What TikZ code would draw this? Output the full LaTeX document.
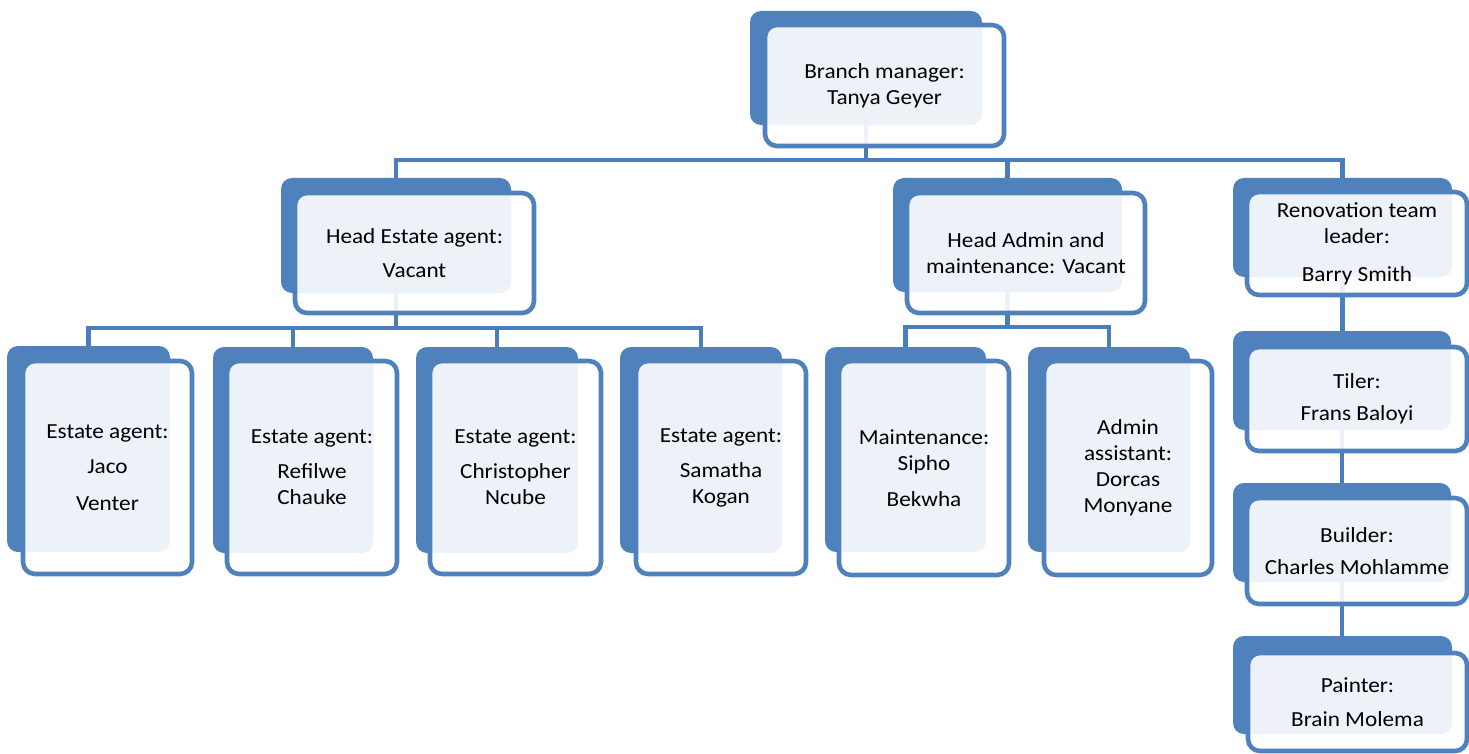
\documentclass[tikz,border=0pt]{standalone}
\usepackage{fontspec}
\setmainfont{Carlito}[FakeStretch=1.08]
\definecolor{acc}{HTML}{4F81BD}
\definecolor{lnc}{HTML}{4A7EBB}
\tikzset{
 backbox/.style={fill=acc, rounded corners=11pt, inner sep=0pt},
 frontbox/.style={draw=acc, line width=4.6pt, fill=white, fill opacity=0.9, text opacity=1, rounded corners=12pt, inner sep=0pt, align=center, font=\fontsize{21.5}{26}\selectfont},
 conn/.style={draw=lnc, line width=4.6pt}
}
\newcommand\backbox[5]{\node[backbox, minimum width={#4-#2}, minimum height={#5-#3}] (#1) at ({(#2+#4)/2},{(#3+#5)/2}) {};}
\newcommand\frontbox[6]{\node[frontbox, minimum width={#4-#2}, minimum height={#5-#3}] (#1) at ({(#2+#4)/2},{(#3+#5)/2}) {#6};}
\begin{document}
\begin{tikzpicture}[x=1pt,y=-1pt]
\useasboundingbox (0,0) rectangle (1469,754);
% back boxes
\backbox{bmb}{750}{11}{982}{125}
\backbox{heb}{281}{178}{511}{293}
\backbox{hab}{893}{178}{1122}{292}
\backbox{rlb}{1233}{178}{1452}{277}
\backbox{ea1b}{7}{346}{170}{552}
\backbox{ea2b}{213}{347}{373}{553}
\backbox{ea3b}{416}{347}{578}{553}
\backbox{ea4b}{620}{347}{782}{553}
\backbox{mtb}{825}{347}{986}{552}
\backbox{aab}{1028}{347}{1190}{552}
\backbox{tib}{1233}{331}{1451}{430}
\backbox{bub}{1233}{483}{1451}{582}
\backbox{pab}{1233}{636}{1452}{734}
% connectors
\coordinate (bus0) at (0,160);
\coordinate (bus1) at (0,328);
\coordinate (bus2) at (0,327);
\draw[conn] (bmb.center) -- (bmb.center |- bus0);
\draw[conn] (heb.north) |- (rlb.north |- bus0) -- (rlb.north);
\draw[conn] (hab.north) -- (hab.north |- bus0);
\draw[conn] (heb.center) -- (heb.center |- bus1);
\draw[conn] (ea1b.north) |- (ea4b.north |- bus1) -- (ea4b.north);
\draw[conn] (ea2b.north) -- (ea2b.north |- bus1);
\draw[conn] (ea3b.north) -- (ea3b.north |- bus1);
\draw[conn] (hab.center) -- (hab.center |- bus2);
\draw[conn] (mtb.north) |- (aab.north |- bus2) -- (aab.north);
\draw[conn] (rlb.center) -- (rlb.center |- tib.north);
\draw[conn] (tib.center) -- (tib.center |- bub.north);
\draw[conn] (bub.center) -- (bub.center |- pab.north);
% front boxes
\frontbox{bm}{765}{25}{1004}{146}{Branch manager:\\Tanya Geyer}
\frontbox{he}{295}{193}{534}{313}{Head Estate agent:\\[8pt]Vacant}
\frontbox{ha}{907}{193}{1145}{313}{Head Admin and\\maintenance: Vacant}
\frontbox{rl}{1247}{192}{1467}{295}{Renovation team\\leader:\\[12pt]Barry Smith}
\frontbox{ea1}{23}{361}{192}{574}{Estate agent:\\[9pt]Jaco\\[11pt]Venter}
\frontbox{ea2}{227}{361}{397}{574}{Estate agent:\\[9pt]Refilwe\\Chauke}
\frontbox{ea3}{430}{361}{601}{574}{Estate agent:\\[9pt]Christopher\\Ncube}
\frontbox{ea4}{636}{361}{806}{574}{Estate agent:\\[9pt]Samatha\\Kogan}
\frontbox{mt}{839}{361}{1009}{575}{Maintenance:\\Sipho\\[10pt]Bekwha}
\frontbox{aa}{1044}{361}{1212}{575}{Admin\\assistant:\\Dorcas\\Monyane}
\frontbox{ti}{1247}{347}{1467}{451}{Tiler:\\[6pt]Frans Baloyi}
\frontbox{bu}{1247}{498}{1467}{604}{Builder:\\[6pt]Charles Mohlamme}
\frontbox{pa}{1248}{653}{1467}{751}{Painter:\\[8pt]Brain Molema}
\end{tikzpicture}
\end{document}
